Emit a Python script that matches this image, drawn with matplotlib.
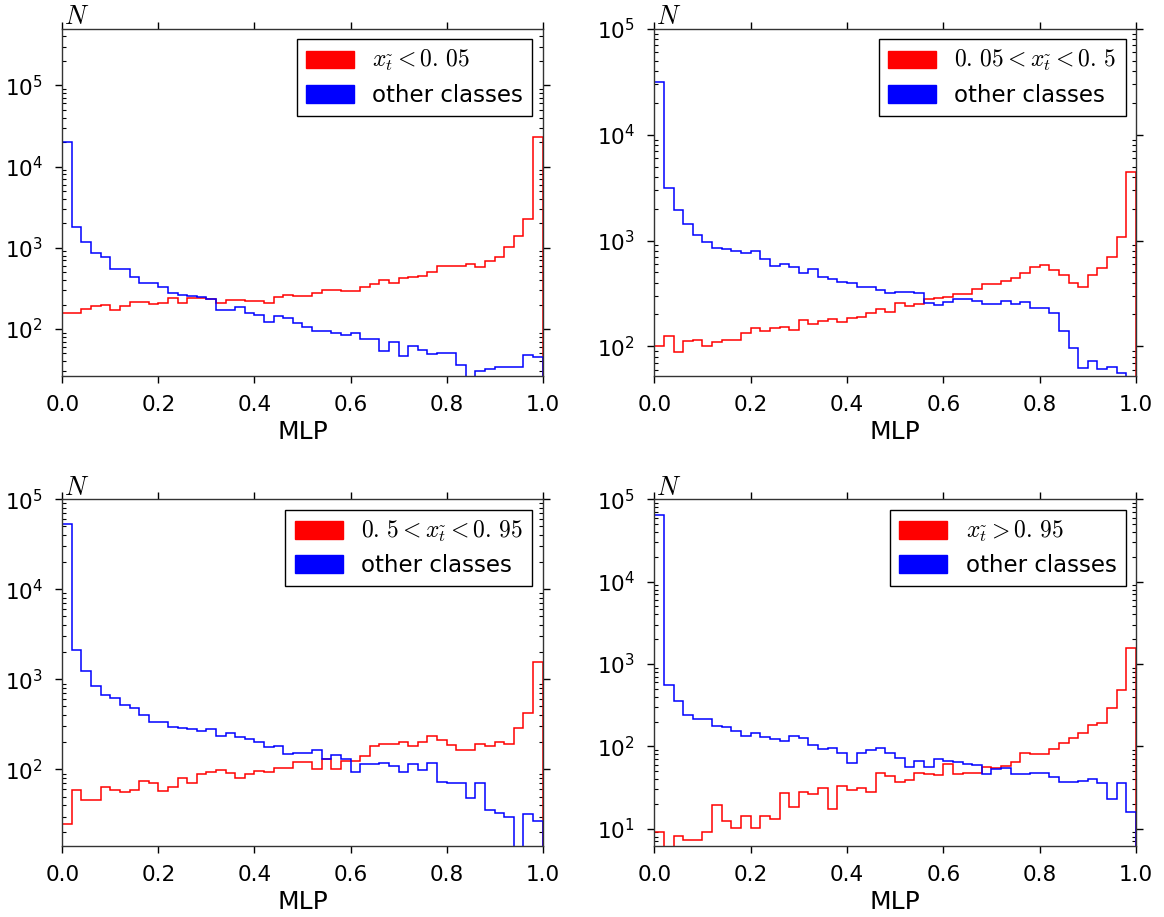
import matplotlib
matplotlib.use('Agg')

import numpy as np
import matplotlib.pyplot as plt
from matplotlib.patches import Patch
from matplotlib.font_manager import FontProperties

# 50 bins of MLP output between 0 and 1
bin_edges = np.linspace(0.0, 1.0, 51)

# counts per bin (top-left: x_t < 0.05)
red_1 = [159, 159, 174, 194, 197, 171, 194, 213, 213, 201,
         211, 239, 211, 242, 242, 232, 211, 227, 227, 223,
         221, 207, 250, 262, 255, 255, 275, 300, 300, 296,
         296, 332, 358, 400, 365, 420, 440, 450, 508, 600,
         600, 600, 625, 585, 690, 775, 1010, 1390, 2290, 23000]
blue_1 = [19900, 1800, 1180, 854, 762, 553, 553, 432, 368, 368,
          332, 275, 262, 255, 250, 232, 171, 171, 185, 156,
          148, 122, 145, 135, 117, 107, 94, 94, 90, 84,
          90, 75, 75, 53, 69, 46, 62, 55, 49, 50,
          50, 36, 20, 30, 32, 34, 34, 34, 48, 45]

# top-right: 0.05 < x_t < 0.5
red_2 = [100, 125, 89, 111, 115, 101, 109, 115, 115, 133,
         148, 138, 148, 153, 143, 177, 163, 175, 180, 169,
         184, 191, 205, 224, 213, 255, 240, 251, 280, 289,
         295, 312, 312, 346, 386, 386, 415, 440, 490, 566,
         587, 527, 469, 400, 367, 469, 546, 693, 1089, 4480]
blue_2 = [31300, 3160, 1945, 1423, 1119, 977, 857, 832, 803, 769,
          797, 675, 579, 600, 558, 498, 535, 456, 437, 403,
          397, 367, 361, 344, 317, 326, 326, 317, 255, 246,
          264, 278, 278, 268, 251, 251, 268, 251, 264, 229,
          229, 205, 141, 96, 63, 72, 61, 64, 56, 45]

# bottom-left: 0.5 < x_t < 0.95
red_3 = [25, 59, 46, 46, 63, 59, 56, 59, 75, 71,
         57, 63, 81, 70, 89, 94, 98, 92, 81, 90,
         97, 94, 105, 103, 122, 122, 100, 132, 100, 124,
         124, 141, 183, 194, 194, 203, 182, 203, 237, 212,
         186, 164, 164, 191, 182, 203, 190, 285, 419, 1570]
blue_3 = [52700, 2138, 1228, 843, 676, 626, 514, 476, 405, 333,
          336, 293, 286, 281, 269, 278, 237, 256, 231, 219,
          201, 176, 183, 147, 154, 154, 164, 132, 144, 132,
          94, 115, 115, 117, 109, 94, 115, 98, 119, 73,
          71, 71, 48, 71, 35, 33, 30, 8, 32, 27]

# bottom-right: x_t > 0.95
red_4 = [9.2, 3, 8.1, 7.3, 7.3, 9.2, 19.4, 12.4, 10.1, 14.3,
         10.1, 14.3, 13.2, 26.9, 18.2, 27.6, 26.6, 31.5, 17.3, 33,
         29.5, 31, 27.6, 48, 44, 37, 39, 47, 46, 45,
         61, 46, 48, 48, 56, 55, 58, 65, 84, 80,
         80, 92, 109, 127, 144, 182, 194, 290, 483, 1549]
blue_4 = [64600, 551, 359, 238, 213, 213, 178, 170, 155, 132,
          146, 129, 122, 117, 134, 125, 104, 92, 95, 82,
          63, 82, 90, 95, 82, 73, 56, 67, 56, 71,
          66, 65, 61, 59, 46, 53, 54, 46, 46, 47,
          47, 42, 37, 37, 38, 40, 36, 23, 36, 16]

labels = [r'$x_{\tilde{t}} < 0.\,05$',
          r'$0.\,05 < x_{\tilde{t}} < 0.\,5$',
          r'$0.\,5 < x_{\tilde{t}} < 0.\,95$',
          r'$x_{\tilde{t}} > 0.\,95$']

ylims = [(26.4, 4.94e5), (52.4, 1e5), (14.1, 1e5), (6.15, 1e5)]

# axes boxes in figure fraction
boxes = [[0.0535, 0.5900, 0.4127, 0.3784],
         [0.5621, 0.5900, 0.4138, 0.3784],
         [0.0535, 0.0774, 0.4127, 0.3781],
         [0.5621, 0.0774, 0.4138, 0.3781]]

reds = [red_1, red_2, red_3, red_4]
blues = [blue_1, blue_2, blue_3, blue_4]

fig = plt.figure(figsize=(11.64, 9.17), dpi=100)
centers = 0.5 * (bin_edges[:-1] + bin_edges[1:])
leg_font = FontProperties(family='DejaVu Sans', size=16.5, math_fontfamily='cm')

for i in range(4):
    ax = fig.add_axes(boxes[i])
    ax.hist(centers, bins=bin_edges, weights=reds[i], histtype='step',
            color='#ff0000', lw=1.1, log=True)
    ax.hist(centers, bins=bin_edges, weights=blues[i], histtype='step',
            color='#0000ff', lw=1.1, log=True)
    ax.set_xlim(0, 1)
    ax.set_ylim(*ylims[i])
    ax.set_xticks([0.0, 0.2, 0.4, 0.6, 0.8, 1.0])
    ax.tick_params(which='major', direction='out', length=5, width=1,
                   top=True, right=True, labelsize=15.5, pad=9)
    ax.tick_params(which='minor', direction='in', length=3, width=0.8,
                   top=False, right=True)
    for sp in ax.spines.values():
        sp.set_linewidth(1.0)
        sp.set_color('#333333')
    ax.set_xlabel('MLP', fontsize=18, labelpad=3)
    ax.text(0.003, 0.996, '$N$', transform=ax.transAxes, ha='left',
            va='bottom', fontsize=19, math_fontfamily='cm')
    handles = [Patch(facecolor='#ff0000', edgecolor='#ff0000'),
               Patch(facecolor='#0000ff', edgecolor='#0000ff')]
    leg = ax.legend(handles, [labels[i], 'other classes'], loc='upper right',
                    prop=leg_font, fancybox=False, framealpha=1,
                    edgecolor='black', borderaxespad=0.45,
                    handlelength=2.1, handleheight=0.8, labelspacing=0.45)
    leg.get_texts()[0].set_fontsize(17)
    leg.get_frame().set_linewidth(1.0)

fig.savefig('out.png', dpi=100, facecolor='white')
